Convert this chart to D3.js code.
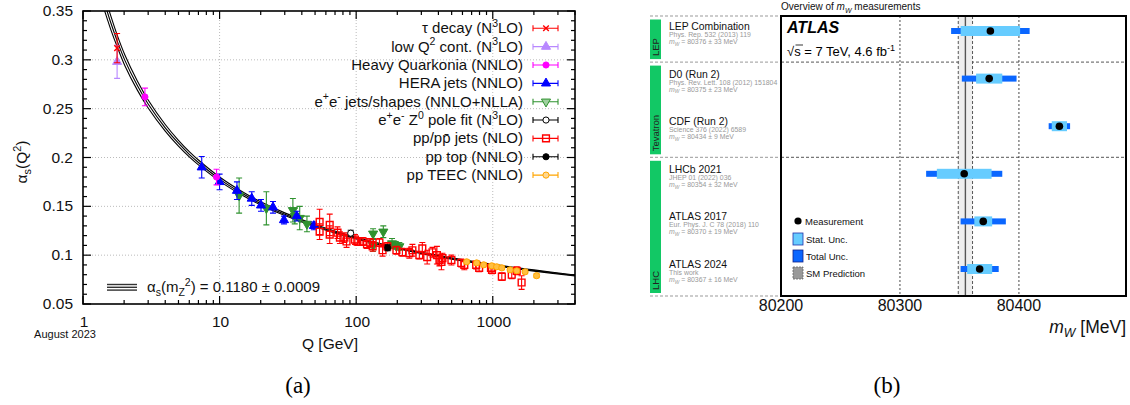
<!DOCTYPE html>
<html>
<head>
<meta charset="utf-8">
<script src="https://cdn.jsdelivr.net/npm/d3@7"></script>
<style>
  body { margin: 0; background: #fff; }
  text { font-family: "Liberation Sans", Arial, sans-serif; }
</style>
</head>
<body>
<svg id="chart" width="1130" height="405"></svg>
<script>
// ---------- panel (a) data
const curveQ = [1.4, 1.5, 1.6, 1.777, 2.03, 2.5, 3, 4, 5, 6, 7, 10, 15, 20, 30, 50, 91.2, 150, 200, 329, 500, 1000, 2000, 4000];
const curveAlpha = [0.364, 0.350, 0.3377, 0.3196, 0.2992, 0.2737, 0.2548, 0.2304, 0.2146, 0.2033, 0.1949, 0.1779, 0.1623, 0.1530, 0.1419, 0.1302, 0.1189, 0.1112, 0.1073, 0.1012, 0.0966, 0.0900, 0.0843, 0.0792];
const curveErr = [0.0085, 0.0075, 0.007, 0.006, 0.0055, 0.0047, 0.0041, 0.0034, 0.003, 0.0027, 0.0025, 0.0021, 0.0018, 0.0016, 0.0014, 0.0011, 0.0009, 0.0008, 0.0008, 0.0007, 0.0007, 0.0006, 0.0006, 0.0005];

// [Q, alpha_s, error]
const tauDecay = [[1.777, 0.312, 0.015]];
const lowQ2 = [[1.777, 0.298, 0.017]];
const quarkonia = [[2.84, 0.262, 0.009], [9.5, 0.180, 0.008]];
const heraJets = [[7.4, 0.190, 0.011], [10, 0.175, 0.008], [13.4, 0.166, 0.009], [17.2, 0.158, 0.007],
  [20.1, 0.151, 0.006], [24.6, 0.149, 0.006], [29.6, 0.136, 0.004], [36.7, 0.140, 0.005], [49, 0.130, 0.004]];
const eeJets = [[13.9, 0.161, 0.018], [22, 0.148, 0.017], [34.4, 0.146, 0.012], [35.5, 0.140, 0.008],
  [38.6, 0.138, 0.012], [43.6, 0.132, 0.008], [133, 0.122, 0.005], [133, 0.110, 0.006],
  [158, 0.124, 0.006], [183, 0.112, 0.005], [195, 0.110, 0.004], [207, 0.109, 0.004]];
const z0Pole = [[91.2, 0.1225, 0.003]];
const ppJets = [[54, 0.134, 0.013], [54, 0.124, 0.008], [64, 0.131, 0.011], [64, 0.121, 0.009],
  [73, 0.123, 0.006], [76, 0.118, 0.006], [82, 0.118, 0.005], [85, 0.114, 0.006], [98, 0.116, 0.005],
  [102, 0.114, 0.004], [112, 0.114, 0.004], [120, 0.111, 0.004], [126, 0.113, 0.004], [132, 0.109, 0.005],
  [148, 0.113, 0.004], [156, 0.105, 0.006], [169, 0.109, 0.004], [197, 0.105, 0.004], [218, 0.103, 0.004],
  [245, 0.102, 0.005], [258, 0.105, 0.006], [290, 0.100, 0.004], [305, 0.107, 0.006], [331, 0.098, 0.007],
  [362, 0.103, 0.005], [390, 0.100, 0.009], [407, 0.095, 0.006], [421, 0.093, 0.008], [428, 0.097, 0.005],
  [498, 0.095, 0.005], [588, 0.092, 0.004], [619, 0.090, 0.005], [756, 0.090, 0.004], [795, 0.087, 0.004],
  [970, 0.087, 0.004], [987, 0.085, 0.004], [1165, 0.078, 0.004], [1377, 0.080, 0.004], [1498, 0.084, 0.004],
  [1626, 0.072, 0.007]];
const ppTop = [[170, 0.1075, 0.003]];
const ppTEEC = [[644, 0.0932, 0.002], [762, 0.0921, 0.002], [858, 0.0901, 0.002], [982, 0.0891, 0.002],
  [1068, 0.0881, 0.002], [1165, 0.087, 0.002], [1340, 0.085, 0.002], [1498, 0.084, 0.002],
  [1725, 0.083, 0.002], [2093, 0.079, 0.002]];

const legendLabels = ["τ decay (N^{3}LO)", "low Q^{2} cont. (N^{3}LO)", "Heavy Quarkonia (NNLO)", "HERA jets (NNLO)",
  "e^{+}e^{-} jets/shapes (NNLO+NLLA)", "e^{+}e^{-} Z^{0} pole fit (N^{3}LO)", "pp/pp\u0304 jets (NLO)", "pp top (NNLO)", "pp TEEC (NNLO)"];
const xTicks = [1, 10, 100, 1000];
const yTicks = [0.05, 0.1, 0.15, 0.2, 0.25, 0.3, 0.35];

// ---------- panel (b) data
const wExps = ["LEP Combination", "D0 (Run 2)", "CDF (Run 2)", "LHCb 2021", "ATLAS 2017", "ATLAS 2024"];
const wRefs = ["Phys. Rep. 532 (2013) 119", "Phys. Rev. Lett. 108 (2012) 151804", "Science 376 (2022) 6589",
  "JHEP 01 (2022) 036", "Eur. Phys. J. C 78 (2018) 110", "This work"];
const wValues = [80376, 80375, 80434, 80354, 80370, 80367];
const wStat = [25, 11, 6.4, 23, 7.5, 10.5];
const wTotal = [33, 23, 9, 32, 19, 16];
const groupNames = ["LEP", "Tevatron", "LHC"];
const groupSizes = [1, 2, 3];
const smValue = 80355, smErr = 6;
const wTicks = [80200, 80300, 80400];

const svg = d3.select("#chart");
svg.append("rect").attr("width", 1130).attr("height", 405).attr("fill", "#fff");

// text with ^{sup}, _{sub}, *{italic}, %{italic sub}
function rich(sel, str, fs) {
  const parts = str.split(/([\^_*%]\{[^}]*\})/);
  let cur = 0;
  parts.forEach(p => {
    if (!p) return;
    let txt = p, size = fs, off = 0, ital = false;
    if (/^[\^_*%]\{/.test(p)) {
      txt = p.slice(2, -1);
      const k = p[0];
      if (k === "^") { size = fs * 0.7; off = -fs * 0.42; }
      if (k === "_") { size = fs * 0.7; off = fs * 0.25; }
      if (k === "%") { size = fs * 0.7; off = fs * 0.25; ital = true; }
      if (k === "*") ital = true;
    }
    const t = sel.append("tspan").attr("font-size", size).attr("dy", off - cur).text(txt);
    if (ital) t.attr("font-style", "italic");
    cur = off;
  });
  return sel;
}

// ================= panel (a)
const pa = { left: 83, right: 575, top: 11, bottom: 304 };
const x = d3.scaleLog().domain([1, 4000]).range([pa.left, pa.right]);
const y = d3.scaleLinear().domain([0.05, 0.35]).range([pa.bottom, pa.top]);
const ga = svg.append("g");

ga.append("clipPath").attr("id", "clipA").append("rect")
  .attr("x", pa.left).attr("y", pa.top).attr("width", pa.right - pa.left).attr("height", pa.bottom - pa.top);

// grid
ga.selectAll(".gx").data(xTicks.slice(1)).enter().append("line")
  .attr("x1", d => x(d)).attr("x2", d => x(d)).attr("y1", pa.top).attr("y2", pa.bottom)
  .attr("stroke", "#bbb").attr("stroke-dasharray", "1,2");
ga.selectAll(".gy").data(yTicks.slice(1, -1)).enter().append("line")
  .attr("x1", pa.left).attr("x2", pa.right).attr("y1", d => y(d)).attr("y2", d => y(d))
  .attr("stroke", "#bbb").attr("stroke-dasharray", "1,2");

// band
const band = curveQ.map((q, i) => ({ q, a: curveAlpha[i], e: curveErr[i] }));
const bandG = ga.append("g").attr("clip-path", "url(#clipA)");
bandG.append("path").datum(band)
  .attr("d", d3.area().x(d => x(d.q)).y0(d => y(d.a - d.e)).y1(d => y(d.a + d.e)).curve(d3.curveCatmullRom))
  .attr("fill", "#fff");
[-1, 0, 1].forEach(s => {
  bandG.append("path").datum(band)
    .attr("d", d3.line().x(d => x(d.q)).y(d => y(d.a + s * d.e)).curve(d3.curveCatmullRom))
    .attr("fill", "none").attr("stroke", "#000").attr("stroke-width", 1.1);
});

// markers
function marker(g, type, cx, cy, col, fill) {
  if (type === "x") {
    const r = 2.8;
    g.append("path").attr("d", `M${cx - r},${cy - r}L${cx + r},${cy + r}M${cx - r},${cy + r}L${cx + r},${cy - r}`)
      .attr("stroke", col).attr("stroke-width", 1.4);
    return;
  }
  const sym = { tri: d3.symbolTriangle, tridown: d3.symbolTriangle, circle: d3.symbolCircle, square: d3.symbolSquare }[type];
  const size = { tri: 36, tridown: 36, circle: 30, square: 46 }[type];
  g.append("path").attr("d", d3.symbol().type(sym).size(size)())
    .attr("transform", `translate(${cx},${cy})` + (type === "tridown" ? " rotate(180)" : ""))
    .attr("fill", fill).attr("stroke", col).attr("stroke-width", type === "square" ? 1.4 : 1);
}

const series = [
  { data: tauDecay, col: "#ff0000", type: "x", fill: "none" },
  { data: lowQ2, col: "#b888ff", type: "tri", fill: "#b888ff" },
  { data: quarkonia, col: "#ff00ff", type: "circle", fill: "#ff00ff" },
  { data: heraJets, col: "#0000ff", type: "tri", fill: "#0000ff" },
  { data: eeJets, col: "#2f922f", type: "tridown", fill: "#2f922f" },
  { data: z0Pole, col: "#000", type: "circle", fill: "#fff" },
  { data: ppJets, col: "#ff0000", type: "square", fill: "none" },
  { data: ppTop, col: "#000", type: "circle", fill: "#000" },
  { data: ppTEEC, col: "#ffa500", type: "circle", fill: "#ffbf40" }
];
const drawOrder = [4, 3, 1, 0, 2, 6, 8, 5, 7];
const pts = ga.append("g");
drawOrder.forEach(k => {
  const s = series[k];
  s.data.forEach(([q, v, e]) => {
    const cx = x(q), y1 = y(v + e), y2 = y(v - e);
    pts.append("path").attr("d", `M${cx},${y1}V${y2}M${cx - 3},${y1}H${cx + 3}M${cx - 3},${y2}H${cx + 3}`)
      .attr("stroke", s.col).attr("stroke-width", 1.1).attr("fill", "none");
    marker(pts, s.type, cx, y(v), s.col, s.fill);
  });
});

// legend
const lg = ga.append("g");
legendLabels.forEach((lab, i) => {
  const cy = 28.3 + i * 18.35;
  const s = series[i];
  rich(lg.append("text").attr("x", 523).attr("y", cy + 5).attr("text-anchor", "end").attr("fill", "#111"), lab, 15);
  lg.append("path").attr("d", `M533,${cy}H558M533,${cy - 3}V${cy + 3}M558,${cy - 3}V${cy + 3}`)
    .attr("stroke", s.col).attr("stroke-width", 1.1);
  marker(lg, s.type, 546, cy, s.col, s.type === "tridown" ? "#9fd09f" : (s.type === "circle" && i === 8 ? "#ffd890" : s.fill));
});

// bottom band legend
[284.5, 287.3, 290.1].forEach(yy => {
  ga.append("line").attr("x1", 107).attr("x2", 137).attr("y1", yy).attr("y2", yy)
    .attr("stroke", "#333").attr("stroke-width", 1.4);
});
rich(ga.append("text").attr("x", 147).attr("y", 292).attr("fill", "#111"), "α_{s}(m_{Z}^{2}) = 0.1180 ± 0.0009", 15);

// frame and ticks
ga.append("rect").attr("x", pa.left).attr("y", pa.top).attr("width", pa.right - pa.left).attr("height", pa.bottom - pa.top)
  .attr("fill", "none").attr("stroke", "#000").attr("stroke-width", 1.6);
const xMinor = x.ticks().filter(t => !xTicks.includes(t));
const tk = ga.append("g").attr("stroke", "#000").attr("stroke-width", 1.2);
xTicks.concat(xMinor).forEach(t => {
  const L = xTicks.includes(t) ? 8 : 4;
  tk.append("line").attr("x1", x(t)).attr("x2", x(t)).attr("y1", pa.bottom).attr("y2", pa.bottom - L);
  tk.append("line").attr("x1", x(t)).attr("x2", x(t)).attr("y1", pa.top).attr("y2", pa.top + L);
});
d3.range(5, 36).map(v => v / 100).forEach(v => {
  const major = Math.abs(v * 20 - Math.round(v * 20)) < 1e-6;
  const L = major ? 8 : 4;
  tk.append("line").attr("x1", pa.left).attr("x2", pa.left + L).attr("y1", y(v)).attr("y2", y(v));
  tk.append("line").attr("x1", pa.right).attr("x2", pa.right - L).attr("y1", y(v)).attr("y2", y(v));
});
ga.selectAll(".xl").data(xTicks).enter().append("text")
  .attr("x", d => x(d) + 1).attr("y", 327).attr("text-anchor", "middle").attr("font-size", 15.5).attr("fill", "#111")
  .text(d => d);
ga.selectAll(".yl").data(yTicks).enter().append("text")
  .attr("x", 73).attr("y", d => y(d) + 5).attr("text-anchor", "end").attr("font-size", 15.5).attr("fill", "#111")
  .text(d => d.toFixed(d === 0.1 || d === 0.2 || d === 0.3 ? 1 : 2));
ga.append("text").attr("x", 65).attr("y", 338).attr("text-anchor", "middle").attr("font-size", 11).attr("fill", "#111").text("August 2023");
rich(ga.append("text").attr("x", 302).attr("y", 349).attr("fill", "#111"), "Q [GeV]", 15.5);
rich(ga.append("text").attr("transform", "translate(27,162) rotate(-90)").attr("text-anchor", "middle").attr("fill", "#111"),
  "α_{s}(Q^{2})", 15.5);
svg.append("text").attr("x", 298).attr("y", 393).attr("text-anchor", "middle")
  .style("font-family", "'Liberation Serif', serif").attr("font-size", 23).text("(a)");

// ================= panel (b)
const pb = { left: 781, right: 1126, top: 16, bottom: 296 };
const xW = d3.scaleLinear().domain([80200, 80490]).range([pb.left, pb.right]);
const yRow = d3.scalePoint().domain(d3.range(wExps.length)).range([31, 269]);
const gb = svg.append("g");

const starts = groupSizes.map((n, i) => d3.sum(groupSizes.slice(0, i)));
const seps = [pb.top].concat(starts.slice(1).map(s => yRow(s) - 16.5)).concat([pb.bottom]);

// separators
seps.forEach((sy, i) => {
  gb.append("line").attr("x1", 650).attr("x2", pb.left).attr("y1", sy).attr("y2", sy)
    .attr("stroke", "#999").attr("stroke-width", 1).attr("stroke-dasharray", "3,2");
  if (i > 0 && i < seps.length - 1)
    gb.append("line").attr("x1", pb.left).attr("x2", pb.right).attr("y1", sy).attr("y2", sy)
      .attr("stroke", "#444").attr("stroke-width", 0.9).attr("stroke-dasharray", "3,2");
});

// group bars
groupNames.forEach((g, i) => {
  const y0 = seps[i] + 3.5, y1 = seps[i + 1] - 3;
  gb.append("rect").attr("x", 650).attr("y", y0).attr("width", 11).attr("height", y1 - y0).attr("fill", "#12c865");
  gb.append("text").attr("transform", `translate(659,${y1 - 3}) rotate(-90)`).attr("font-size", 9.5).attr("fill", "#222").text(g);
});

// grid and SM band
wTicks.slice(1).forEach(t => {
  gb.append("line").attr("x1", xW(t)).attr("x2", xW(t)).attr("y1", pb.top).attr("y2", pb.bottom)
    .attr("stroke", "#333").attr("stroke-width", 0.9).attr("stroke-dasharray", "2,2");
});
gb.append("rect").attr("x", xW(smValue - smErr)).attr("y", pb.top).attr("width", xW(smValue + smErr) - xW(smValue - smErr))
  .attr("height", pb.bottom - pb.top).attr("fill", "#eeeeee");
[smValue - smErr, smValue + smErr].forEach(v => {
  gb.append("line").attr("x1", xW(v)).attr("x2", xW(v)).attr("y1", pb.top).attr("y2", pb.bottom)
    .attr("stroke", "#444").attr("stroke-width", 0.9).attr("stroke-dasharray", "3,2");
});
gb.append("line").attr("x1", xW(smValue)).attr("x2", xW(smValue)).attr("y1", pb.top).attr("y2", pb.bottom)
  .attr("stroke", "#555").attr("stroke-width", 1.4);

// measurements
wValues.forEach((v, i) => {
  const cy = yRow(i);
  gb.append("rect").attr("x", xW(v - wTotal[i])).attr("y", cy - 3).attr("width", xW(v + wTotal[i]) - xW(v - wTotal[i]))
    .attr("height", 6).attr("fill", "#0a66ff");
  gb.append("rect").attr("x", xW(v - wStat[i])).attr("y", cy - 5).attr("width", xW(v + wStat[i]) - xW(v - wStat[i]))
    .attr("height", 10).attr("fill", "#66ccff");
  gb.append("circle").attr("cx", xW(v)).attr("cy", cy).attr("r", 3.8).attr("fill", "#000");

  // labels on the left
  gb.append("text").attr("x", 669).attr("y", cy - 1).attr("font-size", 10.4).attr("fill", "#111").text(wExps[i]);
  gb.append("text").attr("x", 669).attr("y", cy + 6).attr("font-size", 6.9).attr("fill", "#999").text(wRefs[i]);
  rich(gb.append("text").attr("x", 669).attr("y", cy + 13).attr("fill", "#999"),
    `*{m}%{W} = ${v} ± ${wTotal[i]} MeV`, 6.9);
});

// legend inside box
gb.append("circle").attr("cx", 798).attr("cy", 221).attr("r", 3.6).attr("fill", "#000");
gb.append("text").attr("x", 805).attr("y", 225).attr("font-size", 9.5).attr("fill", "#111").text("Measurement");
const lb = [
  { y: 233, fill: "#66ccff", stroke: "#2233aa", dash: null, label: "Stat. Unc." },
  { y: 250, fill: "#0a66ff", stroke: "#112288", dash: null, label: "Total Unc." },
  { y: 267, fill: "#999", stroke: "#666", dash: "2,1", label: "SM Prediction" }
];
lb.forEach(d => {
  gb.append("rect").attr("x", 793).attr("y", d.y).attr("width", 10).attr("height", 12)
    .attr("fill", d.fill).attr("stroke", d.stroke).attr("stroke-width", 0.8).attr("stroke-dasharray", d.dash);
  gb.append("text").attr("x", 806).attr("y", d.y + 10).attr("font-size", 9.5).attr("fill", "#111").text(d.label);
});

// box, ticks, texts
gb.append("rect").attr("x", pb.left).attr("y", pb.top).attr("width", pb.right - pb.left).attr("height", pb.bottom - pb.top)
  .attr("fill", "none").attr("stroke", "#000").attr("stroke-width", 2);
gb.selectAll(".wl").data(wTicks).enter().append("text")
  .attr("x", d => xW(d)).attr("y", 311).attr("text-anchor", "middle").attr("font-size", 16).attr("fill", "#111").text(d => d);
rich(gb.append("text").attr("x", 1126).attr("y", 333).attr("text-anchor", "end").attr("fill", "#111"), "*{m}%{W} [MeV]", 17.5);
rich(gb.append("text").attr("x", 781).attr("y", 10).attr("fill", "#111"), "Overview of *{m}%{W} measurements", 10);
gb.append("text").attr("x", 787).attr("y", 33).attr("font-size", 16).attr("font-weight", "bold").attr("font-style", "italic")
  .attr("fill", "#000").text("ATLAS");
rich(gb.append("text").attr("x", 787).attr("y", 56).attr("fill", "#000"), "√s = 7 TeV, 4.6 fb^{-1}", 13);
gb.append("line").attr("x1", 795.5).attr("x2", 803).attr("y1", 45).attr("y2", 45).attr("stroke", "#000").attr("stroke-width", 0.8);
svg.append("text").attr("x", 887).attr("y", 393).attr("text-anchor", "middle")
  .style("font-family", "'Liberation Serif', serif").attr("font-size", 23).text("(b)");
</script>
</body>
</html>
